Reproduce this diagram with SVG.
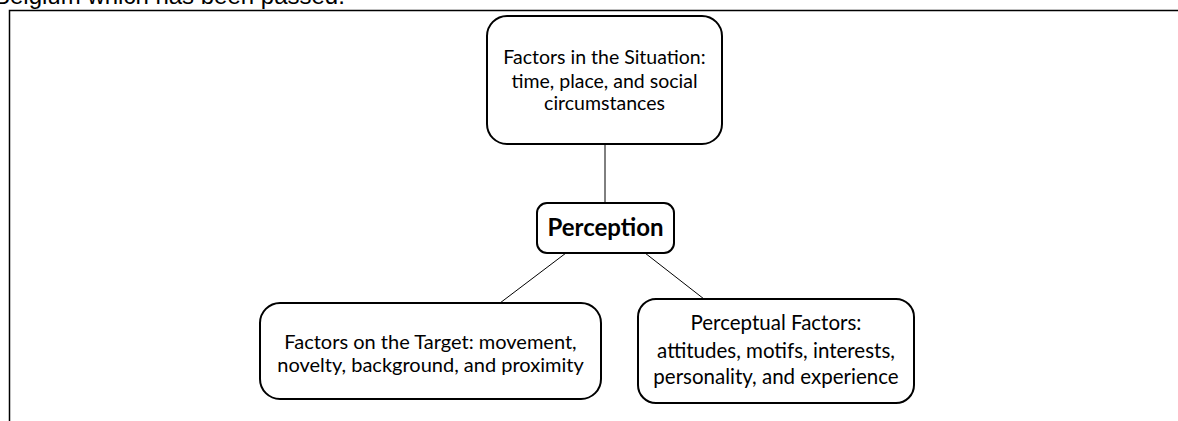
<svg xmlns="http://www.w3.org/2000/svg" width="1178" height="421" viewBox="0 0 1178 421">
<style>
.box{fill:#fff;stroke:#000;stroke-width:2}
.t{font-family:Lato,"Liberation Sans",sans-serif;fill:#000;text-anchor:middle}
.c{stroke:#000;stroke-width:1;fill:none}
</style>
<rect width="1178" height="421" fill="#fff"/>
<text x="-6" y="4" font-family="'Liberation Sans',Arial,sans-serif" font-size="24" fill="#000">Belgium which has been passed.</text>
<path d="M9.5 421 V10.5 H1178" fill="none" stroke="#000" stroke-width="1.5"/>
<g id="connectors">
<line class="c" x1="605" y1="145" x2="605" y2="203"/>
<line class="c" x1="566" y1="253" x2="500" y2="303"/>
<line class="c" x1="645" y1="253" x2="704" y2="299"/>
</g>
<g id="situation">
<rect class="box" x="487" y="16" width="235" height="128" rx="20"/>
<text class="t" font-size="19.5"><tspan x="604.5" y="64">Factors in the Situation:</tspan><tspan x="604.5" y="88">time, place, and social</tspan><tspan x="604.5" y="110">circumstances</tspan></text>
</g>
<g id="perception">
<rect class="box" x="537" y="203" width="137" height="50" rx="10"/>
<text class="t" font-size="24" font-weight="bold" x="605.5" y="236">Perception</text>
</g>
<g id="target">
<rect class="box" x="260" y="303" width="341" height="96" rx="20"/>
<text class="t" font-size="20"><tspan x="430.5" y="349">Factors on the Target: movement,</tspan><tspan x="430.5" y="372">novelty, background, and proximity</tspan></text>
</g>
<g id="perceptual">
<rect class="box" x="638" y="299" width="276" height="104" rx="18"/>
<text class="t" font-size="20.5"><tspan x="776" y="330">Perceptual Factors:</tspan><tspan x="776" y="358">attitudes, motifs, interests,</tspan><tspan x="776" y="384">personality, and experience</tspan></text>
</g>
</svg>
